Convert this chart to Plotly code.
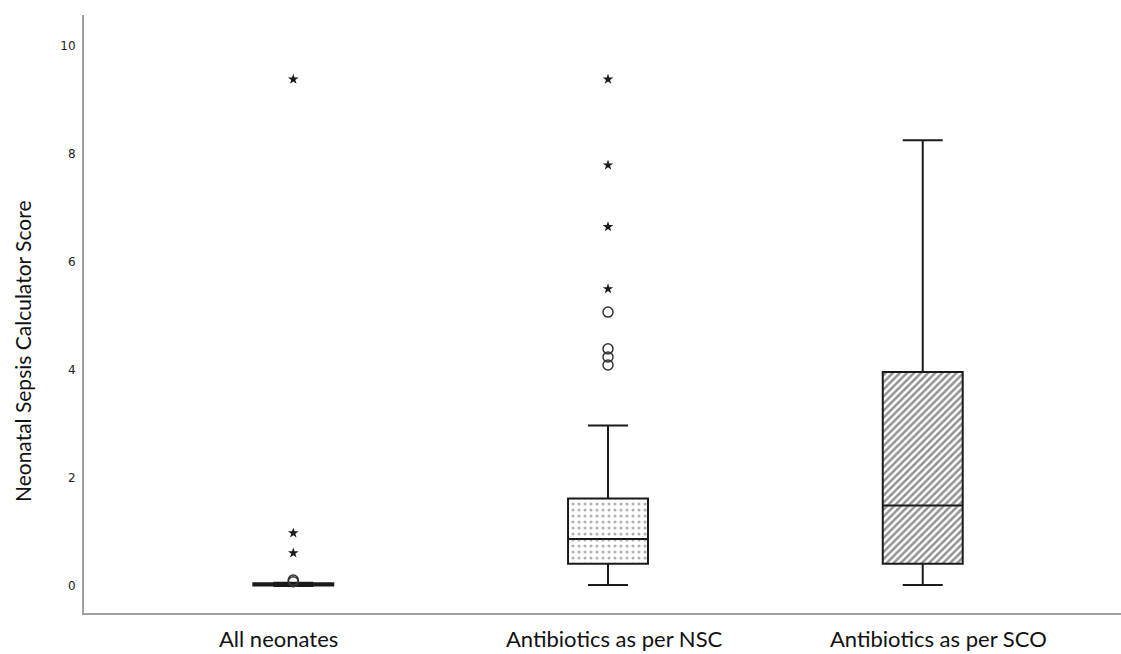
import plotly.graph_objects as go

categories = ["All neonates", "Antibiotics as per NSC", "Antibiotics as per SCO"]
q1 = [0.01, 0.41, 0.41]
median = [0.03, 0.87, 1.49]
q3 = [0.05, 1.62, 3.96]
lower_whisker = [0.0, 0.02, 0.02]
upper_whisker = [0.06, 2.97, 8.25]

# outliers: circles (mild) and stars (extreme)
circle_x = [0, 0, 1, 1, 1, 1]
circle_y = [0.08, 0.11, 5.07, 4.39, 4.24, 4.09]
star_x = [0, 0, 0, 1, 1, 1, 1]
star_y = [0.61, 0.98, 9.38, 5.50, 6.65, 7.79, 9.38]

patterns = ["", ".", "/"]
pattern_fg = ["#333333", "#666666", "#262626"]
pattern_size = [6, 6, 5]
pattern_solidity = [0.3, 0.22, 0.5]

xs = list(range(len(categories)))
box_w = 0.254

fig = go.Figure()

# patterned fill of each box (IQR)
for i in xs:
    fig.add_trace(go.Bar(
        x=[i], y=[q3[i] - q1[i]], base=[q1[i]], width=box_w,
        marker=dict(color="white", line=dict(width=0),
                    pattern=dict(shape=patterns[i], fgcolor=pattern_fg[i],
                                 bgcolor="white", size=pattern_size[i],
                                 solidity=pattern_solidity[i])),
        showlegend=False, hoverinfo="skip"))

# box outlines / whiskers / medians
for i in xs:
    fig.add_trace(go.Box(
        x=[i], q1=[q1[i]], median=[median[i]], q3=[q3[i]],
        lowerfence=[lower_whisker[i]], upperfence=[upper_whisker[i]],
        width=box_w, whiskerwidth=0.5, boxpoints=False,
        fillcolor="rgba(0,0,0,0)", line=dict(color="#1a1a1a", width=2),
        showlegend=False))

fig.add_trace(go.Scatter(
    x=circle_x, y=circle_y, mode="markers",
    marker=dict(symbol="circle-open", size=10, color="#333333", line=dict(width=1.5)),
    showlegend=False))
fig.add_trace(go.Scatter(
    x=star_x, y=star_y, mode="markers",
    marker=dict(symbol="star", size=8, color="#1a1a1a"),
    showlegend=False))

label_shift = [-15, 6, 16]
for i in xs:
    fig.add_annotation(x=i, y=0, xref="x", yref="paper", yanchor="top",
                       yshift=-10, xshift=label_shift[i], text=categories[i],
                       showarrow=False, font=dict(family="Lato", size=22, color="#111111"))

fig.add_annotation(x=-0.0598, y=0.438, xref="paper", yref="paper",
                   xanchor="center", yanchor="middle",
                   text="Neonatal Sepsis Calculator Score", textangle=-90,
                   showarrow=False, font=dict(family="Lato", size=21, color="#111111"))

fig.update_layout(
    width=1121, height=654,
    margin=dict(l=84, r=0, t=15, b=41),
    paper_bgcolor="white", plot_bgcolor="white",
    barmode="overlay", boxmode="overlay",
    xaxis=dict(range=[-0.665, 2.63], showgrid=False, zeroline=False,
               showline=True, linecolor="#a0a0a0", linewidth=2,
               showticklabels=False, ticks=""),
    yaxis=dict(range=[-0.5, 10.57], tickvals=[0, 2, 4, 6, 8, 10],
               showgrid=False, zeroline=False, showline=True,
               linecolor="#a0a0a0", linewidth=2, ticks="",
               ticklabelstandoff=4,
               tickfont=dict(family="DejaVu Sans", size=12, color="#222222")),
)

fig.write_html("out.html", config={"displayModeBar": False},
               post_script="document.body.style.margin='0';document.body.style.overflow='hidden';")
